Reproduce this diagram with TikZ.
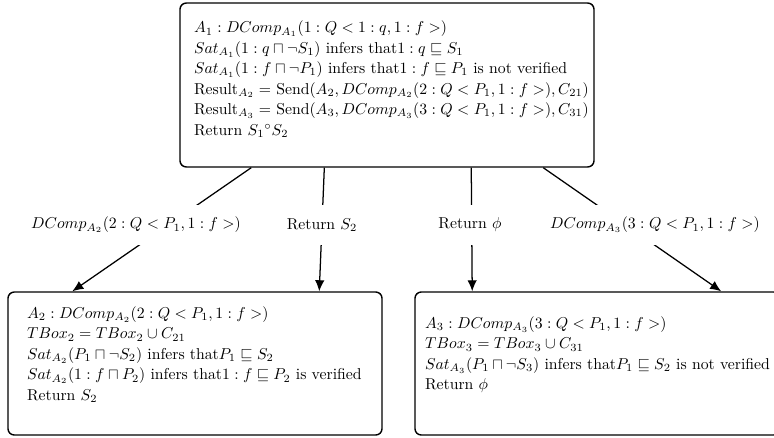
\documentclass[tikz,border=0pt]{standalone}
\usetikzlibrary{arrows.meta}
\begin{document}
\begin{tikzpicture}[x=.635pt,y=-.635pt,>={Latex[length=7pt,width=6pt]},line width=.8pt,
  box/.style={draw,line width=.9pt,rounded corners=4pt,align=left,inner ysep=0pt,
    font=\fontsize{10}{13}\selectfont},
  lbl/.style={fill=white,minimum height=24.8pt,inner xsep=1pt}]
  \useasboundingbox (0,0) rectangle (774,437);
  % agent boxes
  \node[box,text width=245.1pt,inner xsep=8.9pt,minimum height=104.1pt] (top) at (387,85) {%
    $A_1: DComp_{A_1}(1:Q<1:q,1:f>)$\\
    $Sat_{A_1}(1:q\sqcap\neg S_1)$ infers that$1:q\sqsubseteq S_1$\\
    $Sat_{A_1}(1:f\sqcap\neg P_1)$ infers that$1:f\sqsubseteq P_1$ is not verified\\
    \mbox{$\mathrm{Result}_{A_2}=$ Send$(A_2,DComp_{A_2}(2:Q<P_1,1:f>),C_{21})$}\\
    \mbox{$\mathrm{Result}_{A_3}=$ Send$(A_3,DComp_{A_3}(3:Q<P_1,1:f>),C_{31})$}\\
    Return $S_1{}^{\circ}S_2$\\[-4pt] \mbox{}};
  \node[box,text width=213.3pt,inner xsep=12.1pt,minimum height=90.8pt] (lft) at (195,363.5) {%
    $A_2: DComp_{A_2}(2:Q<P_1,1:f>)$\\
    $TBox_2=TBox_2\cup C_{21}$\\
    $Sat_{A_2}(P_1\sqcap\neg S_2)$ infers that$P_1\sqsubseteq S_2$\\
    $Sat_{A_2}(1:f\sqcap P_2)$ infers that$1:f\sqsubseteq P_2$ is verified\\
    Return $S_2$\\ \mbox{}};
  \node[box,text width=219pt,inner xsep=6.4pt,minimum height=90.8pt] (rgt) at (597.5,363.5) {%
    $A_3: DComp_{A_3}(3:Q<P_1,1:f>)$\\
    $TBox_3=TBox_3\cup C_{31}$\\
    $Sat_{A_3}(P_1\sqcap\neg S_3)$ infers that$P_1\sqsubseteq S_2$ is not verified\\
    Return $\phi$\\ \mbox{}};
  % messages
  \draw[->] ([xshift=45.7pt]top.south west) -- ([xshift=41.3pt]lft.north west);
  \draw[->] ([xshift=92.1pt]top.south west) -- ([xshift=198.1pt]lft.north west);
  \draw[->] ([xshift=185.4pt]top.south west) -- ([xshift=36.8pt]rgt.north west);
  \draw[->] ([xshift=231.1pt]top.south west) -- ([xshift=194.9pt]rgt.north west);
  \node[lbl] (callA2) at (136,225) {$DComp_{A_2}(2:Q<P_1,1:f>)$};
  \node[lbl] (retA2) at (322,225) {Return $S_2$};
  \node[lbl] (retA3) at (470,225) {Return $\phi$};
  \node[lbl] (callA3) at (655,225) {$DComp_{A_3}(3:Q<P_1,1:f>)$};
\end{tikzpicture}
\end{document}
